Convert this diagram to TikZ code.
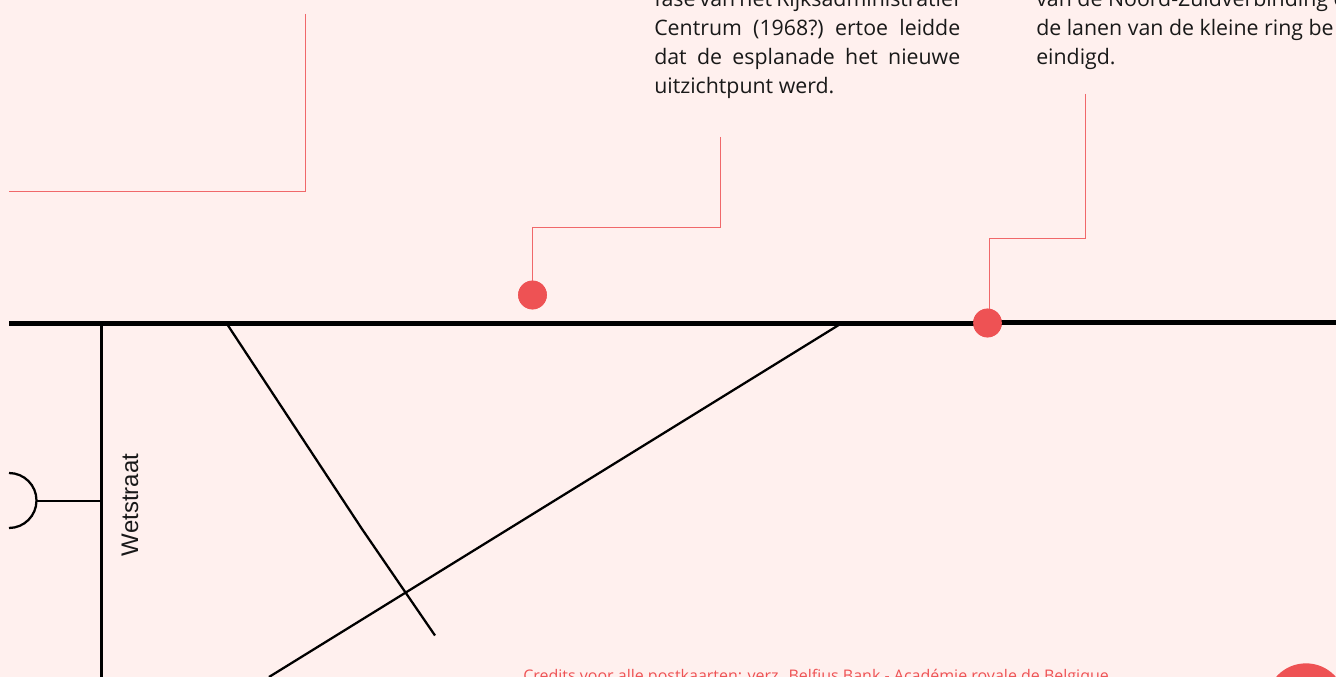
\documentclass[tikz,border=0pt]{standalone}
\usepackage{fontspec}
\setmainfont{Open Sans}
\newfontfamily\streetfont{Liberation Sans}
\definecolor{bgc}{HTML}{FFF0EE}
\definecolor{redc}{HTML}{EE5254}
\definecolor{linec}{HTML}{F0686A}
\tikzset{
  x=0.75pt,y=-0.75pt,
  road/.style={draw=black,line width=1.7pt},
  mainroad/.style={draw=black,line width=3.75pt},
  leader/.style={draw=linec,line width=0.6pt},
  dot/.style={circle,fill=redc,inner sep=0pt,minimum size=21.5pt},
  para/.style={anchor=base west,inner sep=0pt,font=\fontsize{16pt}{20pt}\selectfont,text=black!90},
  credit/.style={anchor=base west,inner sep=0pt,font=\fontsize{12pt}{14pt}\selectfont,text=redc},
}
\newcommand{\jline}[1]{\hbox to 229.5pt{\frenchspacing\spaceskip=0.12em plus 1fil\relax #1}}
\begin{document}
\begin{tikzpicture}
\useasboundingbox (0,0) rectangle (1336,677);
\clip (0,0) rectangle (1336,677);
\fill[bgc] (0,0) rectangle (1336,677);
% text
\node[para] (a1) at (654,7) {\jline{fase van het Rijksadministratief}};
\node[para] (a2) at (654,36) {\jline{Centrum (1968?) ertoe leidde}};
\node[para] (a3) at (654,65) {\jline{dat de esplanade het nieuwe}};
\node[para] (a4) at (654,94) {uitzichtpunt werd.};
\node[para] (b1) at (1036,7) {van de Noord-Zuidverbinding en};
\node[para] (b2) at (1036,36) {de lanen van de kleine ring be};
\node[para] (b3) at (1036,65) {eindigd.};
% leaders
\coordinate (c0) at (305.5,14);
\coordinate (c1) at (9,191);
\draw[leader] (c0) |- (c1);
\node[dot] (d1) at (532.5,295) {};
\node[dot] (d2) at (987.5,323) {};
\coordinate (l1) at (720,137);
\coordinate (l2) at (1085.5,94);
\coordinate (l2b) at (989,323);
% roads
\coordinate (m0) at (9,323.5);
\coordinate (m1) at (987.5,323.5);
\coordinate (m2) at (987.5,322.8);
\coordinate (m3) at (1336,322.8);
\coordinate (w0) at (101.5,323);
\coordinate (w1) at (101.5,677);
\coordinate (j1) at (101.5,501);
\coordinate (arcend) at (36,501);
\coordinate (r0) at (227,324);
\coordinate (r1) at (362,529);
\coordinate (r2) at (435,635.5);
\coordinate (s0) at (842,323);
\coordinate (s1) at (269,677);
\draw[road] (w0) -- (w1);
\draw[road] (j1) -- (arcend);
\draw[road] (9,473) arc[start angle=-90,end angle=90,radius=27.5];
\draw[road] (r0) -- (r1) -- (r2);
\draw[road] (s0) -- (s1);
\draw[mainroad] (m0) -- (m1);
\draw[mainroad] (m2) -- (m3);
\draw[leader] (l1) -- (720,227.5) -| (d1.center);
\draw[leader] (l2) -- (1085.5,238.5) -| (l2b);
\node[dot] at (d1) {};
\node[dot] at (d2) {};
\node[anchor=base,rotate=90,inner sep=0pt,font=\streetfont\fontsize{18pt}{20pt}\selectfont,text=black!90] (w) at (138,505) {Wetstraat};
\node[credit] (cr) at (523,681) {Credits voor alle postkaarten: verz. Belfius Bank - Académie royale de Belgique};
\node[circle,fill=redc,inner sep=0pt,minimum size=59.5pt] (pg) at (1306,703) {};
\end{tikzpicture}
\end{document}
